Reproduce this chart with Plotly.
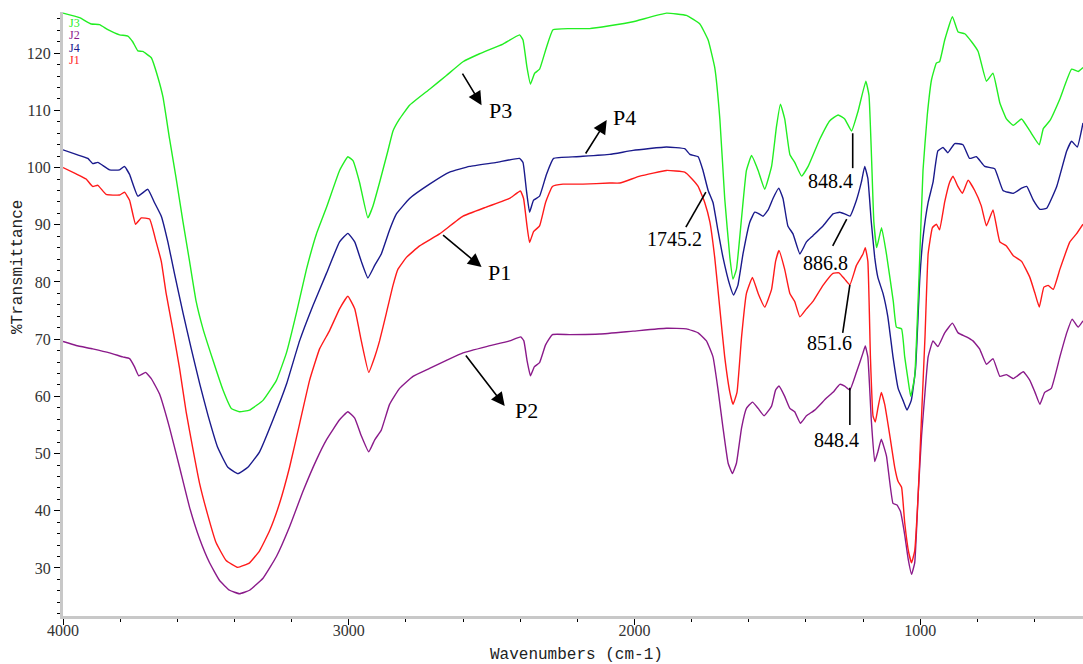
import plotly.graph_objects as go

# ---- data: (wavenumber cm-1, %T) ----
J3 = [(4000,127.0),(3942,126.2),(3901,125.1),(3872,125.0),(3843,124.1),(3802,123.2),(3773,123.0),(3756,122.0),
      (3738,120.4),(3721,120.3),(3691,119.2),(3668,115.8),(3650,112.3),(3627,105.0),(3604,98.1),(3580,90.5),
      (3557,83.6),(3534,76.6),(3510,71.8),(3475,66.3),(3440,61.1),(3411,57.9),(3382,57.3),(3347,57.6),(3300,59.3),
      (3253,62.8),(3218,67.6),(3183,74.6),(3148,82.2),(3113,88.4),(3078,93.0),(3032,99.5),(3003,101.9),(2985,101.2),
      (2962,97.4),(2933,91.2),(2915,93.3),(2892,97.4),(2863,102.9),(2845,106.4),(2822,108.5),(2787,110.9),
      (2717,113.7),(2658,116.1),(2600,118.5),(2542,119.9),(2460,121.6),(2402,123.2),(2390,122.3),(2376,117.5),
      (2364,114.6),(2349,116.5),(2332,117.2),(2308,121.0),(2285,124.1),(2227,124.3),(2157,124.3),(2087,124.8),
      (2005,125.5),(1888,127.0),(1818,126.6),(1771,125.1),(1742,122.3),(1719,117.5),(1701,108.5),(1684,94.6),
      (1666,84.3),(1655,80.5),(1643,82.2),(1625,91.2),(1608,99.5),(1590,102.1),(1567,99.5),(1544,96.2),
      (1520,100.2),(1503,107.1),(1489,111.1),(1474,108.5),(1456,102.3),(1439,100.9),(1415,98.5),(1392,100.2),
      (1351,105.0),(1316,108.2),(1287,109.2),(1264,108.5),(1240,106.4),(1217,109.9),(1190,115.1),(1179,112.6),
      (1170,101.6),(1162,90.5),(1152,86.0),(1135,89.5),(1118,84.9),(1094,76.6),(1083,72.1),(1065,71.8),
      (1054,66.9),(1042,62.8),(1033,60.0),(1019,63.5),(1004,80.8),(990,99.5),(975,109.2),(960,115.4),(943,118.3),
      (932,118.5),(914,122.3),(887,126.4),(867,123.7),(844,123.4),(820,122.0),(797,120.3),(768,115.1),(745,116.5),
      (721,111.3),(698,108.5),(674,107.4),(645,108.5),(616,106.4),(583,104.0),(569,106.8),(546,108.2),(511,112.0),
      (470,117.2),(447,116.8),(430,117.5)]

J4 = [(4000,103.1),(3954,102.3),(3913,101.6),(3896,100.7),(3878,100.9),(3837,99.6),(3802,99.6),(3785,100.2),
      (3767,98.8),(3738,95.0),(3703,96.2),(3680,93.9),(3656,91.5),(3633,87.0),(3610,81.5),(3580,74.6),(3551,68.3),
      (3521,62.1),(3492,56.6),(3458,51.0),(3423,47.6),(3388,46.5),(3353,47.6),(3312,50.3),(3265,55.9),(3218,62.1),
      (3172,69.7),(3125,75.9),(3078,81.5),(3032,87.0),(3003,88.5),(2979,87.0),(2956,83.6),(2933,80.7),(2909,82.9),
      (2886,84.9),(2857,89.1),(2833,91.9),(2787,94.6),(2717,97.1),(2647,99.2),(2577,100.2),(2483,100.9),
      (2402,101.6),(2390,100.9),(2378,96.0),(2367,92.2),(2353,94.3),(2332,95.0),(2308,98.8),(2283,101.6),
      (2203,101.9),(2087,102.3),(2005,103.0),(1888,103.6),(1824,103.3),(1806,102.3),(1777,101.9),(1760,99.5),
      (1742,96.0),(1725,93.9),(1708,89.1),(1690,84.3),(1666,79.4),(1653,77.7),(1638,79.4),(1620,84.9),(1596,90.5),
      (1579,92.2),(1567,92.0),(1550,91.5),(1532,92.6),(1515,94.6),(1495,96.4),(1480,94.6),(1463,89.8),(1445,88.4),
      (1421,84.9),(1398,87.0),(1375,88.1),(1340,89.8),(1305,91.9),(1281,92.2),(1264,91.9),(1246,91.5),(1223,94.3),
      (1206,97.4),(1194,100.2),(1183,98.1),(1171,90.5),(1159,84.3),(1148,80.8),(1130,78.0),(1113,73.9),(1095,66.9),
      (1077,61.4),(1060,59.3),(1046,57.6),(1031,59.3),(1016,64.9),(1001,80.8),(990,87.7),(972,93.9),(955,97.4),
      (938,102.9),(920,103.5),(903,102.6),(879,104.2),(850,104.0),(827,101.6),(803,101.9),(774,100.2),(739,99.8),
      (710,96.0),(674,95.5),(645,96.4),(627,96.7),(604,94.3),(581,92.7),(557,92.9),(522,96.7),(487,102.9),
      (470,104.6),(450,103.6),(430,107.8)]

J1 = [(4000,100.0),(3954,98.9),(3919,98.0),(3896,96.7),(3878,96.9),(3849,95.3),(3802,95.2),(3785,95.7),(3767,94.3),
      (3746,90.1),(3726,91.2),(3697,91.0),(3674,87.0),(3656,83.6),(3639,78.0),(3616,71.8),(3592,64.9),(3569,57.3),
      (3546,51.0),(3522,44.8),(3493,39.2),(3464,34.4),(3429,31.3),(3388,30.1),(3347,30.9),(3312,33.0),(3277,36.5),
      (3242,41.3),(3207,47.6),(3172,55.2),(3137,62.8),(3102,68.3),(3067,71.5),(3032,75.3),(3003,77.5),(2979,75.3),
      (2956,69.7),(2930,64.2),(2909,66.9),(2892,69.7),(2868,74.6),(2845,79.4),(2828,82.2),(2798,84.3),(2752,86.3),
      (2682,88.4),(2600,91.5),(2518,93.1),(2437,94.6),(2399,95.9),(2388,94.6),(2376,89.8),(2367,86.9),(2353,88.8),
      (2332,89.8),(2311,93.9),(2287,96.7),(2250,97.1),(2180,97.1),(2087,97.3),(2051,97.3),(1981,98.5),(1888,99.5),
      (1824,99.2),(1800,98.1),(1777,96.7),(1754,93.9),(1736,90.5),(1719,84.3),(1701,75.3),(1684,66.9),(1666,60.7),
      (1655,58.6),(1641,60.7),(1625,70.4),(1608,78.0),(1587,80.8),(1567,78.0),(1544,75.6),(1520,78.7),(1506,83.6),
      (1494,85.5),(1474,82.2),(1456,78.0),(1439,76.6),(1421,73.9),(1398,75.3),(1375,76.6),(1340,79.4),(1305,81.5),
      (1284,81.6),(1264,80.5),(1246,79.5),(1223,82.9),(1200,84.9),(1192,86.0),(1183,83.6),(1174,66.9),(1165,56.6),
      (1157,55.5),(1148,57.9),(1136,60.7),(1124,58.6),(1106,53.1),(1089,47.6),(1077,45.1),(1065,44.1),(1054,37.9),
      (1040,32.7),(1030,30.9),(1019,33.0),(1007,42.7),(995,56.6),(983,70.4),(972,84.9),(957,89.5),(943,90.1),
      (932,89.1),(914,94.0),(897,97.4),(885,98.5),(868,96.7),(852,95.5),(832,97.8),(809,96.0),(786,93.3),(768,89.8),
      (745,92.6),(721,87.0),(698,86.3),(674,84.6),(645,83.6),(616,80.8),(598,78.0),(583,75.6),(567,79.1),(552,79.4),
      (534,78.7),(511,82.2),(476,87.0),(453,88.4),(430,90.1)]

J2 = [(4000,69.6),(3954,68.9),(3896,68.3),(3837,67.6),(3791,66.9),(3767,66.6),(3750,65.2),(3735,63.6),(3711,64.2),
      (3691,63.1),(3662,60.4),(3627,54.5),(3592,47.6),(3557,40.6),(3522,35.1),(3487,30.9),(3452,27.8),(3417,26.1),
      (3382,25.5),(3347,26.1),(3300,28.2),(3253,32.0),(3207,37.2),(3160,43.4),(3113,48.9),(3078,52.4),(3032,55.9),
      (3003,57.3),(2979,56.2),(2956,53.1),(2930,50.3),(2909,52.4),(2886,54.1),(2857,58.6),(2822,61.4),(2775,63.5),
      (2717,64.9),(2658,66.3),(2600,67.6),(2518,68.7),(2437,69.7),(2398,70.4),(2387,69.7),(2376,66.3),(2364,63.6),
      (2350,65.2),(2332,65.9),(2311,69.0),(2287,70.8),(2227,70.8),(2121,70.9),(2005,71.4),(1888,71.9),(1818,71.8),
      (1777,71.1),(1748,69.7),(1725,66.9),(1708,61.4),(1690,54.5),(1672,48.3),(1657,46.5),(1643,48.3),(1625,54.5),
      (1608,57.9),(1587,59.0),(1567,57.9),(1546,56.6),(1520,58.3),(1506,61.1),(1494,61.8),(1474,60.0),(1456,57.9),
      (1439,57.3),(1419,55.3),(1398,56.6),(1369,57.6),(1328,59.7),(1305,60.7),(1281,62.1),(1264,61.8),(1246,61.1),
      (1223,64.2),(1200,67.6),(1192,68.8),(1183,66.9),(1171,55.9),(1159,48.6),(1148,50.3),(1136,52.5),(1118,49.6),
      (1095,41.3),(1081,41.0),(1069,39.9),(1054,35.8),(1042,31.6),(1030,28.9),(1019,30.9),(1007,42.7),(995,53.1),
      (983,60.7),(972,66.9),(955,69.7),(938,68.7),(914,71.1),(887,72.8),(867,71.1),(838,70.4),(815,69.7),(792,68.3),
      (768,65.6),(745,66.6),(721,63.5),(698,63.8),(674,63.1),(639,64.3),(616,62.8),(598,60.7),(581,58.6),(564,60.7),
      (541,61.4),(511,66.9),(487,71.1),(468,73.5),(447,72.1),(430,73.2)]

series_names = ["J3", "J2", "J4", "J1"]
series_data = {"J3": J3, "J2": J2, "J4": J4, "J1": J1}
series_colors = {"J3": "#22ee22", "J2": "#8a1a8a", "J4": "#1a1a8c", "J1": "#ff1a1a"}

x_ticks = [4000, 3000, 2000, 1000]
y_ticks = [30, 40, 50, 60, 70, 80, 90, 100, 110, 120]

SERIF = "Liberation Serif"
MONO = "Liberation Mono"

fig = go.Figure()
for name in ["J2", "J1", "J4", "J3"]:
    pts = series_data[name]
    fig.add_trace(go.Scatter(
        x=[p[0] for p in pts], y=[p[1] for p in pts], mode="lines", name=name,
        line=dict(color=series_colors[name], width=1.4, shape="spline", smoothing=0.35),
        hoverinfo="x+y+name"))

ann = []
# legend-like coloured labels
for i, name in enumerate(series_names):
    ann.append(dict(xref="paper", yref="paper", x=0.004, y=0.982 - i * 0.0205,
                    xanchor="left", yanchor="middle", text=name, showarrow=False,
                    font=dict(family=SERIF, size=12, color=series_colors[name])))

# arrows for P labels (tip, tail, label position)
arrows = [
    ("P3", (2535, 110.9), (2605, 116.7), (2468, 109.9)),
    ("P1", (2535, 82.6), (2675, 88.4), (2472, 81.6)),
    ("P2", (2454, 58.3), (2594, 67.4), (2377, 57.6)),
    ("P4", (2097, 108.3), (2174, 102.2), (2034, 108.8)),
]
for label, tip, tail, pos in arrows:
    ann.append(dict(xref="x", yref="y", axref="x", ayref="y", x=tip[0], y=tip[1],
                    ax=tail[0], ay=tail[1], text="", showarrow=True, arrowhead=2,
                    arrowsize=1.7, arrowwidth=1.6, arrowcolor="black"))
    ann.append(dict(xref="x", yref="y", x=pos[0], y=pos[1], text=label, showarrow=False,
                    font=dict(family=SERIF, size=22, color="black")))

# peak labels with leader lines
peaks = [
    ("1745.2", (1750, 95.7), (1820, 89.6), (1859, 87.5)),
    ("886.8", (1257, 91.0), (1306, 86.3), (1330, 83.3)),
    ("851.6", (1246, 79.5), (1271, 71.1), (1316, 69.3)),
    ("848.4", (1236, 106.0), (1236, 99.9), (1313, 97.6)),
    ("848.4", (1246, 61.5), (1246, 55.0), (1292, 52.4)),
]
shapes = []
for label, a, b, pos in peaks:
    shapes.append(dict(type="line", xref="x", yref="y", x0=a[0], y0=a[1], x1=b[0], y1=b[1],
                       line=dict(color="black", width=1.6)))
    ann.append(dict(xref="x", yref="y", x=pos[0], y=pos[1], text=label, showarrow=False,
                    font=dict(family=SERIF, size=20, color="black")))

# axis titles
ann.append(dict(xref="paper", yref="paper", x=0.503, y=-0.065, text="Wavenumbers (cm-1)",
                showarrow=False, xanchor="center", yanchor="middle",
                font=dict(family=MONO, size=16, color="#222")))
ann.append(dict(xref="paper", yref="paper", x=-0.044, y=0.578, text="%Transmittance",
                showarrow=False, xanchor="center", yanchor="middle", textangle=-90,
                font=dict(family=MONO, size=16, color="#222")))

axis_common = dict(showline=True, linecolor="#c8c8c8", linewidth=3, ticks="outside",
                   ticklen=6, tickwidth=1, tickcolor="black", showgrid=False, zeroline=False,
                   tickfont=dict(family=SERIF, size=16, color="#333"))

fig.update_layout(
    width=1083, height=664,
    margin=dict(l=63, r=0, t=12, b=48),
    plot_bgcolor="white", paper_bgcolor="white",
    showlegend=False,
    annotations=ann, shapes=shapes,
    xaxis=dict(range=[4000, 430], tickvals=x_ticks, ticktext=[str(v) for v in x_ticks],
               ticklabelstandoff=-8,
               minor=dict(dtick=200, tick0=0, ticks="outside", ticklen=3, tickcolor="black"),
               **axis_common),
    yaxis=dict(range=[21.6, 127.2], tickvals=y_ticks, ticktext=[str(v) for v in y_ticks],
               minor=dict(dtick=2, tick0=0, ticks="outside", ticklen=3, tickcolor="black"),
               **axis_common),
)

fig.write_html("out.html", config={"displayModeBar": False},
               post_script="document.body.style.margin='0';document.body.style.overflow='hidden';")
